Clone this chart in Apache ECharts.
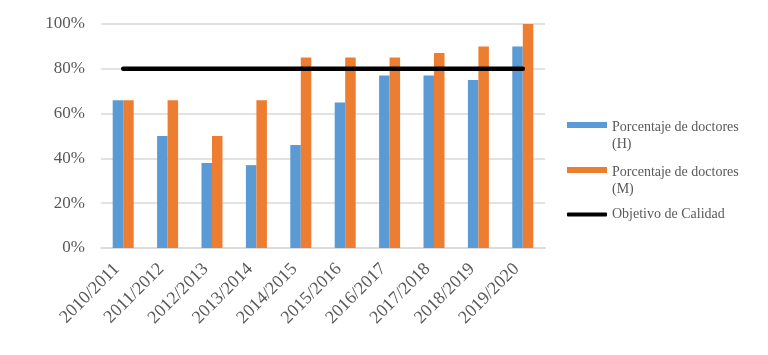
<!DOCTYPE html>
<html><head><meta charset="utf-8">
<script src="https://cdn.jsdelivr.net/npm/echarts@6/dist/echarts.min.js"></script>
<style>html,body{margin:0;padding:0;background:#fff}#c{width:768px;height:355px}</style>
</head><body><div id="c"></div>
<script>
const categories = ['2010/2011','2011/2012','2012/2013','2013/2014','2014/2015','2015/2016','2016/2017','2017/2018','2018/2019','2019/2020'];
const hombres = [66, 50, 38, 37, 46, 65, 77, 77, 75, 90];
const mujeres = [66, 66, 50, 66, 85, 85, 85, 87, 90, 100];
const objetivo = [80, 80, 80, 80, 80, 80, 80, 80, 80, 80];
const names = ['Porcentaje de doctores (H)', 'Porcentaje de doctores (M)', 'Objetivo de Calidad'];

const FONT = '"Liberation Serif", "DejaVu Serif", serif';
const TXT = '#595959';
const chart = echarts.init(document.getElementById('c'));
function lg(name, top, h, icon) {
  const two = name.indexOf('(') >= 0;
  return {
    orient: 'vertical', left: 567, top: top, padding: 0, itemWidth: 40, itemHeight: h, itemGap: 5,
    icon: icon, data: [name], selectedMode: false,
    formatter: n => two ? '{s| }\n{t|' + n.replace(' (', '}\n{t|(') + '}' : n,
    textStyle: { fontFamily: FONT, fontSize: 14, color: TXT, lineHeight: 17,
      rich: { s: { lineHeight: 22, fontSize: 14 }, t: { fontFamily: FONT, fontSize: 14, color: TXT, lineHeight: 17 } } }
  };
}
chart.setOption({
  animation: false,
  grid: { left: 101, right: 223, top: 24, bottom: 107 },
  legend: [
    lg(names[0], 97, 6, 'rect'),
    lg(names[1], 142, 6, 'rect'),
    lg(names[2], 206, 4, 'roundRect')
  ],
  xAxis: {
    type: 'category', data: categories,
    axisLine: { lineStyle: { color: '#D9D9D9', width: 1.5 } },
    axisTick: { show: false },
    axisLabel: { rotate: 45, margin: 12, padding: [0, 9, 0, 0], fontFamily: FONT, fontSize: 18, color: TXT }
  },
  yAxis: {
    type: 'value', min: 0, max: 100, interval: 20,
    axisLine: { show: false }, axisTick: { show: false },
    splitLine: { lineStyle: { color: '#D9D9D9', width: 1.5 } },
    axisLabel: { formatter: '{value}%', margin: 16, fontFamily: FONT, fontSize: 17, color: TXT }
  },
  series: [
    { name: names[0], type: 'bar', data: hombres, barWidth: 10.5, barGap: '0%', itemStyle: { color: '#5B9BD5' } },
    { name: names[1], type: 'bar', data: mujeres, barWidth: 10.5, barGap: '0%', itemStyle: { color: '#ED7D31' } },
    { name: names[2], type: 'line', data: objetivo, symbol: 'none', z: 5,
      lineStyle: { color: '#000', width: 4.5, cap: 'round' }, itemStyle: { color: '#000' } }
  ]
});
</script></body></html>
